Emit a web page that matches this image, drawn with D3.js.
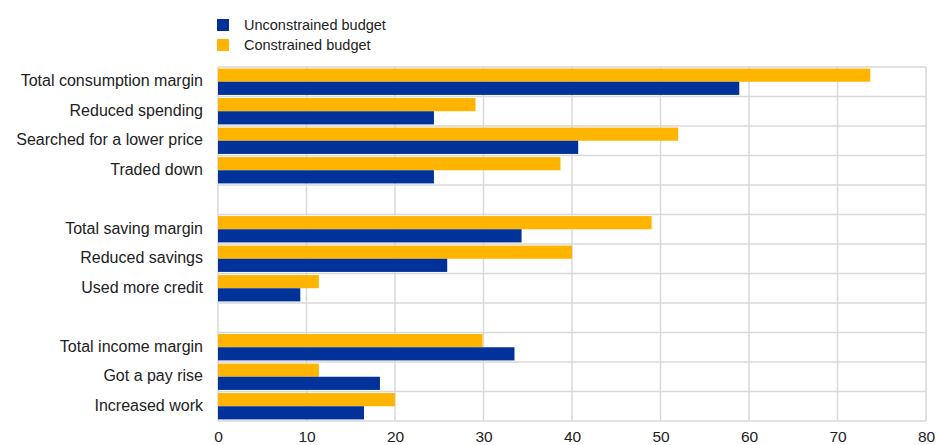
<!DOCTYPE html>
<html><head><meta charset="utf-8">
<script src="https://cdn.jsdelivr.net/npm/d3@7"></script>
<style>
body{margin:0;background:#fff;}
text{font-family:"Liberation Sans",Arial,sans-serif;}
</style></head>
<body><svg id="c" width="936" height="445"></svg>
<script>
const categories = ["Total consumption margin","Reduced spending","Searched for a lower price","Traded down","",
  "Total saving margin","Reduced savings","Used more credit"," ",
  "Total income margin","Got a pay rise","Increased work"];
const unconstrained = [58.9,24.4,40.7,24.4,null,34.3,25.9,9.3,null,33.5,18.3,16.5];
const constrained   = [73.7,29.1,52.0,38.7,null,49.0,40.0,11.4,null,29.9,11.4,20.0];
const seriesNames = ["Unconstrained budget","Constrained budget"];
const xTicks = [0,10,20,30,40,50,60,70,80];

(function(){
const svg = d3.select("#c");
const pL=218, pR=926, pT=67, pB=421;
const x = d3.scaleLinear().domain([0,80]).range([pL,pR]);
const y = d3.scaleBand().domain(categories).range([pT,pB]).padding(0);
const sub = d3.scaleBand().domain(["c","u"]).range([0,y.bandwidth()]).paddingInner(0).paddingOuter(0.12);
const colors = {u:"#003299", c:"#FFB400"};

// subtitle (cut off at top, as in the source)
svg.append("text").attr("x",12).attr("y",-3).attr("font-size",14).attr("fill","#5b8bd8").text("(percentages)");

// grid
const g = svg.append("g");
g.selectAll(".vg").data(xTicks).join("line")
  .attr("x1",d=>x(d)).attr("x2",d=>x(d)).attr("y1",pT).attr("y2",pB)
  .attr("stroke","#d9d9d9").attr("stroke-width",1.5);
const edges = categories.map(c=>y(c)).concat([pB]);
g.selectAll(".hg").data(edges).join("line")
  .attr("x1",pL).attr("x2",pR).attr("y1",d=>d).attr("y2",d=>d)
  .attr("stroke","#d9d9d9").attr("stroke-width",1.5);

// bars
const data = categories.map((c,i)=>({c, u:unconstrained[i], v:constrained[i]}));
const bars = svg.append("g");
bars.selectAll(".bc").data(data.filter(d=>d.v!=null)).join("rect")
  .attr("x",x(0)).attr("y",d=>y(d.c)+sub("c")).attr("height",sub.bandwidth())
  .attr("width",d=>x(d.v)-x(0)).attr("fill",colors.c);
bars.selectAll(".bu").data(data.filter(d=>d.u!=null)).join("rect")
  .attr("x",x(0)).attr("y",d=>y(d.c)+sub("u")).attr("height",sub.bandwidth())
  .attr("width",d=>x(d.u)-x(0)).attr("fill",colors.u);

// y labels
svg.append("g").selectAll("text").data(categories.filter(c=>c.trim()!==""))
  .join("text").attr("x",203).attr("y",d=>y(d)+y.bandwidth()/2-1).attr("dy","0.35em")
  .attr("text-anchor","end").attr("font-size",16).attr("fill","#222").text(d=>d);

// x axis
const xa = svg.append("g").attr("transform",`translate(0,${pB})`)
  .call(d3.axisBottom(x).tickValues(xTicks).tickSize(0).tickPadding(10));
xa.select(".domain").remove();
xa.selectAll("text").attr("font-size",15.5).attr("fill","#222").attr("font-family","Liberation Sans, Arial, sans-serif");

// legend
const leg = svg.append("g");
const legItems = [{n:seriesNames[0],c:colors.u},{n:seriesNames[1],c:colors.c}];
legItems.forEach((d,i)=>{
  leg.append("rect").attr("x",217).attr("y",19+i*20).attr("width",12).attr("height",12).attr("fill",d.c);
  leg.append("text").attr("x",244).attr("y",25+i*20).attr("dy","0.35em").attr("font-size",14.5).attr("fill","#222").text(d.n);
});
})();
</script></body></html>
